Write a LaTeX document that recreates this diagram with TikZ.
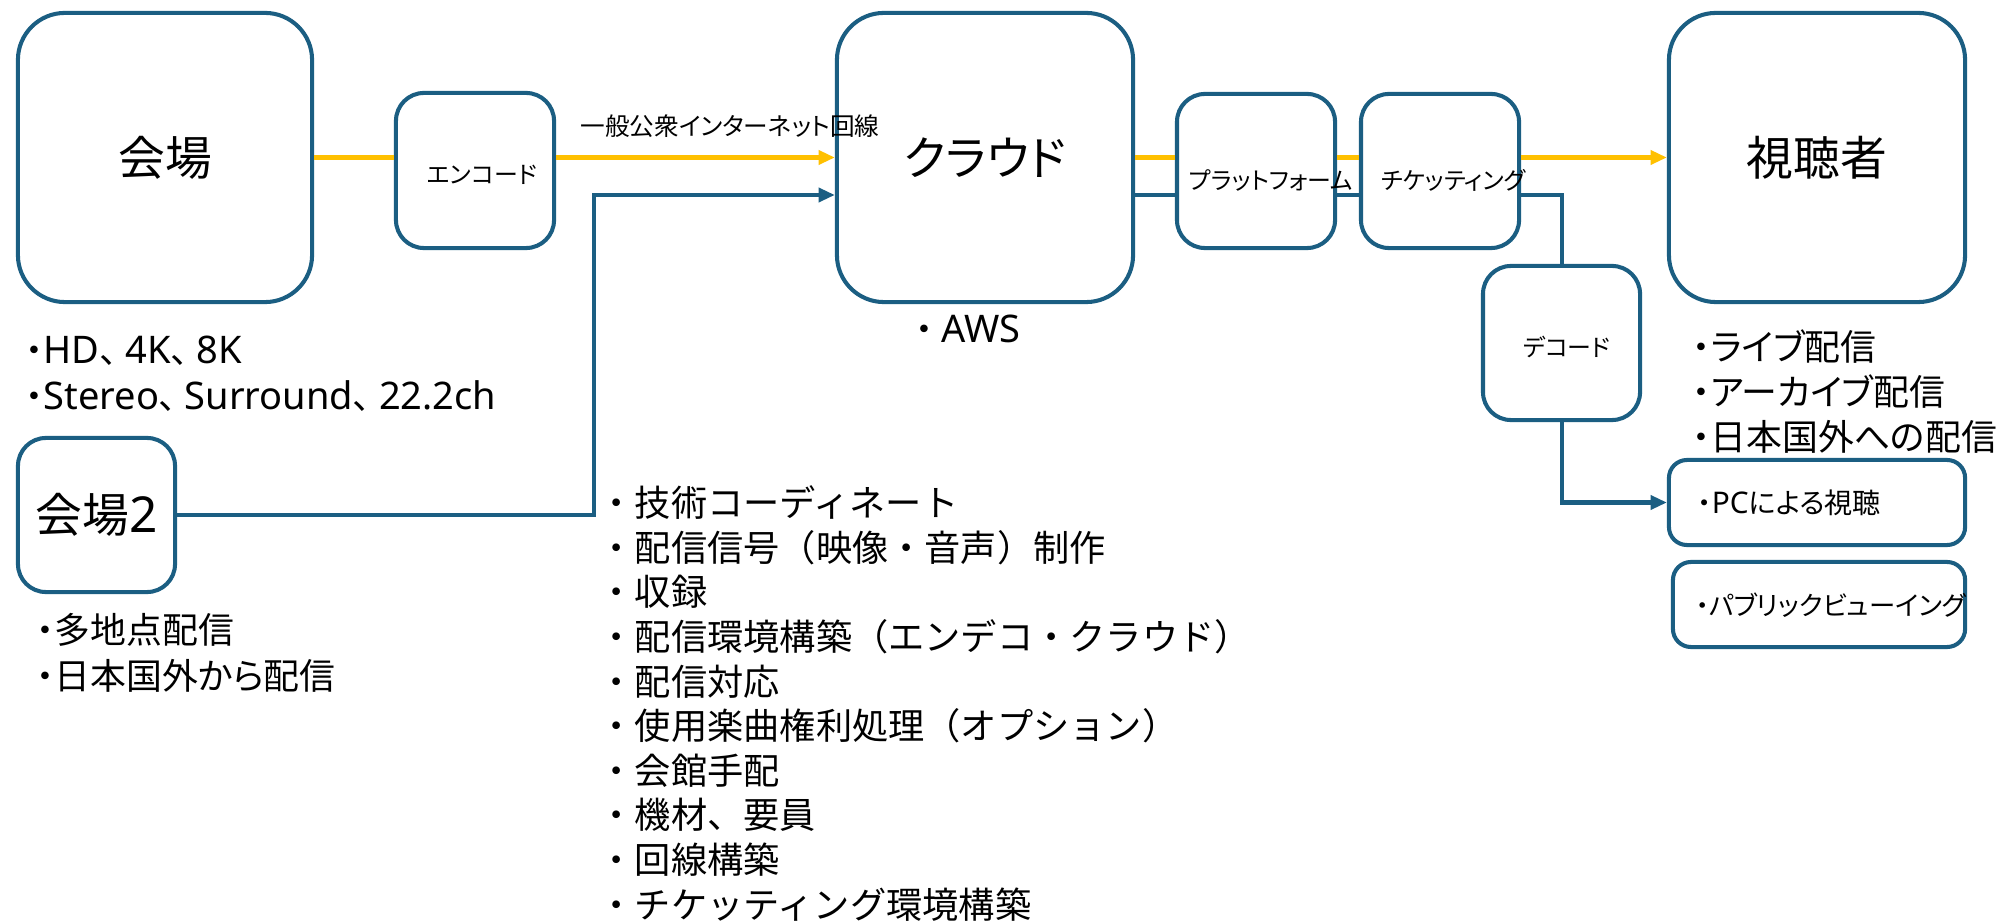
\documentclass[tikz,border=0pt]{standalone}
\usepackage{fontspec}
\setmainfont{Noto Sans CJK JP}
\newfontfamily\jpp{Noto Sans CJK JP}[RawFeature=+palt]
\newfontfamily\latf{Noto Sans}[Scale=1.06]
\newcommand\la[1]{{\latf #1}}
\newcommand\tc{、\hspace{0.22em}}
\usetikzlibrary{arrows.meta}
\definecolor{bl}{HTML}{1B5E82}
\definecolor{ye}{HTML}{FFC000}
\newcommand\fBig{\jpp\fontsize{13.3}{16}\selectfont}
\newcommand\fSmall{\jpp\fontsize{6.8}{8}\selectfont}
\newcommand\fList{\fontsize{10.3}{12}\selectfont}
\newcommand\fListP{\jpp\fontsize{10.2}{12}\selectfont}
\newcommand\fMid{\jpp\fontsize{8}{10}\selectfont}
\newcommand\fPv{\jpp\fontsize{7.5}{10}\selectfont}
\begin{document}
\begin{tikzpicture}[x=0.01cm,y=-0.01cm,
  box/.style={draw=bl, line width=1.15pt, rounded corners=#1, fill=white, inner sep=0pt},
  box/.default=0.3cm,
  txt/.style={inner sep=0pt, anchor=west},
  yl/.style={draw=ye, line width=1.2pt},
  bll/.style={draw=bl, line width=1.15pt},
  tip/.style={-{Triangle[length=4.6pt,width=3.9pt]}}
]
\useasboundingbox (0,0) rectangle (1998,922);

% boxes
\node[box=0.47cm, minimum width=2.94cm, minimum height=2.89cm, font=\fBig] (kaijo) at (165,157.5) {会場};
\node[box=0.28cm, minimum width=1.58cm, minimum height=1.55cm,
      label={[font=\fSmall, xshift=2pt, yshift=-1.3pt]center:エンコード}] (encode) at (475,170.5) {};
\node[box=0.47cm, minimum width=2.96cm, minimum height=2.89cm, font=\fBig] (cloud) at (985,157.5) {クラウド};
\node[box=0.28cm, minimum width=1.58cm, minimum height=1.54cm,
      label={[font=\fSmall, xshift=4.3pt, yshift=-2.6pt]center:プラットフォーム}] (plat) at (1256,171) {};
\node[box=0.28cm, minimum width=1.58cm, minimum height=1.54cm,
      label={[font=\fSmall, xshift=3.8pt, yshift=-2.6pt]center:チケッティング}] (tick) at (1440,171) {};
\node[box=0.47cm, minimum width=2.96cm, minimum height=2.89cm, font=\fBig] (viewer) at (1817,157.5) {視聴者};
\node[box=0.28cm, minimum width=1.57cm, minimum height=1.54cm,
      label={[font=\fSmall, xshift=1.5pt, yshift=-1.2pt]center:デコード}] (decode) at (1561.5,343) {};
\node[box=0.18cm, minimum width=2.96cm, minimum height=0.85cm] (pc) at (1817,502.5) {};
\node[txt, font=\fMid] (pctext) at (1697,503) {・\la{PC}による視聴};
\node[box=0.18cm, minimum width=2.92cm, minimum height=0.85cm] (pv) at (1819,604.5) {};
\node[txt, font=\fPv] (pvtext) at (1695,605) {・パブリックビューイング};
\node[box=0.28cm, minimum width=1.57cm, minimum height=1.54cm, font=\fBig] (kaijo2) at (96.5,515) {会場\la{2}};

% labels
\node[font=\jpp\fontsize{7}{8}\selectfont, inner sep=0pt] (netlabel) at (730,126) {一般公衆インターネット回線};
\node[txt, font=\fListP] (aws) at (915,329) {・ \la{AWS}};
\node[txt, font=\fListP] (hd) at (25,351) {・\la{HD}\tc\la{4K}\tc\la{8K}};
\node[txt, font=\fListP] (st) at (25,396) {・\la{Stereo}\tc\la{Surround}\tc\la{22.2ch}};
\node[txt, font=\fListP] (ml1) at (36,630) {・多地点配信};
\node[txt, font=\fListP] (ml2) at (36,676) {・日本国外から配信};
\node[txt, font=\fListP] (r1) at (1692,347) {・ライブ配信};
\node[txt, font=\fListP] (r2) at (1692,392) {・アーカイブ配信};
\node[txt, font=\fListP] (r3) at (1692,437) {・日本国外への配信};

\foreach \t [count=\i from 0] in {技術コーディネート, 配信信号（映像・音声）制作, 収録,
  配信環境構築（エンデコ・クラウド）, 配信対応, 使用楽曲権利処理（オプション）, 会館手配,
  機材、要員, 回線構築, チケッティング環境構築}
  \node[txt, font=\fList] (item\i) at (598,{503+44.6*\i}) {・\t};

% connectors
\draw[yl] (kaijo.east) -- (kaijo.east -| encode.west);
\draw[yl, tip] (encode.east |- cloud.west) -- (cloud.west);
\coordinate (bendA) at (594,195);
\draw[bll, tip] (kaijo2.east) -| (bendA) -- (bendA -| cloud.west);

\draw[yl] (cloud.east) -- (cloud.east -| plat.west);
\draw[yl] (plat.east |- cloud.east) -- (tick.west |- cloud.east);
\draw[yl, tip] (tick.east |- viewer.west) -- (viewer.west);
\coordinate (bendB) at (1561.5,195);
\draw[bll] (cloud.east |- bendB) -- (plat.west |- bendB);
\draw[bll] (plat.east |- bendB) -- (tick.west |- bendB);
\draw[bll] (tick.east |- bendB) -| (decode.north);
\draw[bll, tip] (decode.south) |- (pc.west);
\end{tikzpicture}
\end{document}
